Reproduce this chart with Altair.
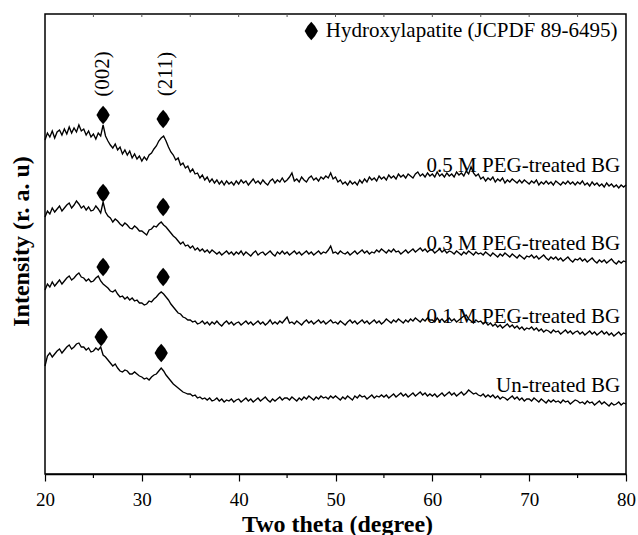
import altair as alt
import pandas as pd

# 2-theta sampling grid (degrees), 0.25 degree steps from 20 to 80
two_theta = [20 + 0.25 * i for i in range(241)]

# Intensities (arbitrary units, vertically offset traces)
peg05 = [334, 341, 337, 343, 336, 342, 344, 339, 345, 340, 347, 341, 346, 342, 349, 343, 345, 339, 343, 337,
         340, 335, 341, 338, 349, 338, 333, 329, 326, 330, 324, 327, 320, 324, 319, 323, 316, 320, 315, 318,
         313, 317, 314, 319, 321, 325, 328, 333, 336, 338, 333, 327, 322, 319, 314, 316, 309, 311, 306, 308,
         302, 305, 300, 301, 296, 299, 294, 297, 292, 295, 291, 294, 290, 293, 289, 293, 290, 292, 289, 293,
         290, 294, 291, 293, 289, 292, 295, 291, 293, 290, 294, 291, 289, 293, 295, 291, 294, 292, 296, 292,
         294, 297, 301, 293, 295, 292, 297, 294, 292, 296, 298, 294, 296, 293, 297, 295, 298, 296, 301, 295,
         297, 292, 294, 290, 292, 289, 293, 290, 292, 289, 294, 291, 295, 292, 297, 294, 296, 293, 298, 295,
         297, 294, 299, 296, 298, 295, 300, 297, 299, 296, 300, 298, 296, 300, 302, 298, 300, 297, 301, 298,
         300, 297, 302, 298, 300, 297, 301, 298, 300, 297, 302, 299, 301, 298, 303, 300, 307, 301, 298, 300,
         295, 297, 293, 296, 294, 297, 292, 295, 293, 296, 291, 294, 292, 295, 293, 291, 294, 291, 294, 292,
         290, 293, 291, 294, 289, 292, 290, 293, 290, 292, 289, 293, 291, 289, 292, 290, 293, 290, 292, 289,
         292, 290, 293, 289, 291, 288, 292, 289, 291, 288, 290, 287, 291, 288, 290, 287, 289, 286, 289, 287,
         289]
peg03 = [257, 263, 260, 266, 262, 265, 268, 263, 266, 269, 271, 266, 269, 273, 270, 266, 268, 264, 267, 263,
         264, 268, 265, 261, 272, 262, 258, 256, 252, 255, 253, 250, 248, 251, 249, 246, 245, 248, 246, 243,
         243, 241, 239, 244, 245, 248, 247, 250, 252, 249, 247, 244, 241, 238, 236, 233, 230, 232, 228, 229,
         226, 228, 224, 226, 223, 225, 222, 224, 221, 224, 222, 220, 222, 219, 221, 223, 220, 222, 219, 222,
         220, 223, 219, 222, 220, 218, 221, 223, 219, 221, 222, 219, 221, 223, 220, 218, 222, 220, 223, 220,
         222, 219, 221, 223, 220, 222, 219, 221, 223, 220, 222, 219, 221, 223, 220, 222, 221, 224, 228, 221,
         222, 220, 223, 221, 220, 222, 219, 221, 223, 220, 222, 224, 221, 223, 220, 222, 221, 224, 222, 225,
         223, 221, 224, 222, 225, 222, 223, 220, 222, 224, 221, 223, 225, 222, 224, 226, 223, 225, 222, 224,
         224, 221, 223, 225, 222, 224, 221, 223, 222, 220, 223, 221, 219, 222, 220, 223, 221, 219, 222, 220,
         221, 219, 222, 220, 218, 221, 219, 217, 220, 218, 221, 219, 217, 220, 218, 216, 219, 217, 215, 218,
         217, 219, 216, 218, 215, 217, 219, 216, 214, 217, 215, 217, 214, 216, 213, 215, 217, 214, 212, 215,
         214, 216, 213, 215, 212, 214, 216, 213, 211, 214, 212, 214, 211, 213, 215, 212, 210, 213, 211, 213,
         212]
peg01 = [184, 190, 187, 192, 188, 191, 194, 190, 193, 196, 198, 194, 196, 199, 201, 197, 196, 193, 195, 192,
         193, 196, 198, 193, 190, 188, 186, 183, 182, 184, 180, 177, 178, 175, 177, 174, 176, 173, 174, 171,
         171, 169, 170, 173, 172, 175, 177, 180, 182, 180, 177, 174, 170, 167, 164, 161, 160, 157, 156, 154,
         154, 152, 153, 150, 151, 153, 150, 152, 149, 152, 150, 153, 150, 148, 151, 153, 150, 152, 149, 151,
         152, 149, 151, 153, 150, 152, 149, 151, 153, 150, 152, 149, 151, 154, 150, 152, 150, 153, 151, 154,
         157, 151, 152, 150, 153, 151, 149, 152, 154, 151, 153, 150, 152, 154, 151, 153, 150, 152, 154, 151,
         152, 150, 153, 151, 149, 152, 154, 151, 153, 150, 152, 154, 151, 153, 150, 152, 154, 151, 153, 150,
         152, 155, 153, 151, 154, 152, 155, 153, 151, 154, 152, 155, 153, 156, 154, 152, 155, 153, 156, 154,
         154, 152, 156, 153, 155, 152, 154, 156, 153, 155, 152, 154, 156, 158, 159, 155, 153, 151, 154, 152,
         153, 150, 152, 149, 151, 148, 150, 147, 149, 146, 148, 150, 147, 149, 146, 148, 145, 147, 144, 146,
         145, 147, 144, 146, 143, 145, 142, 144, 143, 141, 144, 142, 143, 140, 142, 144, 141, 143, 140, 142,
         143, 140, 142, 139, 141, 143, 140, 142, 139, 141, 143, 140, 142, 139, 141, 138, 140, 142, 139, 141,
         140]
untreated = [108, 118, 121, 117, 120, 123, 125, 121, 124, 127, 129, 125, 127, 130, 131, 127, 127, 124, 126, 122,
             123, 126, 124, 127, 119, 117, 114, 111, 108, 110, 106, 103, 102, 104, 103, 100, 100, 102, 100, 98,
             97, 95, 96, 94, 97, 99, 100, 103, 106, 103, 99, 96, 93, 90, 88, 86, 84, 82, 81, 80,
             80, 78, 79, 76, 77, 75, 76, 74, 76, 73, 74, 76, 73, 75, 72, 74, 73, 75, 72, 74,
             75, 72, 74, 76, 73, 75, 72, 74, 76, 73, 75, 77, 74, 72, 75, 73, 75, 77, 74, 76,
             76, 74, 77, 75, 73, 76, 74, 77, 75, 78, 76, 74, 77, 75, 78, 76, 77, 75, 78, 76,
             78, 76, 74, 77, 75, 78, 76, 74, 78, 76, 79, 77, 78, 75, 77, 79, 76, 78, 77, 79,
             77, 79, 76, 78, 80, 77, 79, 81, 78, 80, 77, 79, 81, 78, 80, 82, 79, 81, 78, 80,
             78, 80, 77, 79, 81, 78, 80, 82, 79, 81, 78, 80, 82, 79, 81, 84, 82, 80, 81, 79,
             78, 80, 77, 79, 77, 79, 76, 78, 75, 77, 76, 74, 76, 78, 75, 77, 74, 76, 73, 75,
             75, 73, 76, 74, 72, 75, 73, 71, 74, 72, 74, 72, 73, 71, 74, 72, 73, 70, 72, 74,
             73, 71, 72, 70, 73, 71, 72, 69, 71, 73, 70, 72, 70, 68, 71, 69, 70, 72, 69, 71,
             70]

series_names = ["0.5 M PEG-treated BG", "0.3 M PEG-treated BG",
                "0.1 M PEG-treated BG", "Un-treated BG"]

# Series label anchors (right-aligned text)
label_theta = [79.4, 79.4, 79.4, 79.4]
label_intensity = [302, 224, 151, 82]

# Hydroxylapatite peak markers
peak_theta = [26.0, 32.2, 26.0, 32.2, 26.0, 32.2, 25.8, 32.0]
peak_intensity = [359, 355, 281, 267, 207, 197, 137, 121]

# Miller index labels
hkl_text = ["(002)", "(211)"]
hkl_theta = [25.95, 32.45]
hkl_intensity = [400, 400]

# Legend
legend_text = ["Hydroxylapatite (JCPDF 89-6495)"]
legend_marker_theta = [47.5]
legend_marker_intensity = [443]
legend_text_theta = [49.0]
legend_text_intensity = [437]

major_ticks = [20, 30, 40, 50, 60, 70, 80]
minor_ticks = [25, 35, 45, 55, 65, 75]
top_ticks = [25, 30, 35, 40, 45, 50, 55, 60, 65, 70, 75]

rows = []
for name, vals in zip(series_names, [peg05, peg03, peg01, untreated]):
    for t, v in zip(two_theta, vals):
        rows.append({"series": name, "theta": t, "intensity": v})
df = pd.DataFrame(rows)

FONT = "Liberation Serif"

x_scale = alt.Scale(domain=[20, 80], nice=False, zero=False)
y_scale = alt.Scale(domain=[0, 460], nice=False, zero=False)

x_axis = alt.Axis(values=major_ticks, tickSize=7, tickWidth=1.2, tickColor="black",
                  domainColor="black", domainWidth=1.5, grid=False,
                  labelFont=FONT, labelFontSize=19, labelColor="black",
                  labelPadding=9, labelFlush=False, labelOverlap=False,
                  titleFont=FONT, titleFontSize=24, titleFontWeight="bold",
                  titleColor="black", titleX=292, titleY=57,
                  titleBaseline="alphabetic", titleAlign="center")
y_axis = alt.Axis(labels=False, ticks=False, domain=False, grid=False,
                  titleFont=FONT, titleFontSize=24, titleFontWeight="bold",
                  titleColor="black", titleAngle=270, titleAlign="center",
                  titleBaseline="alphabetic", titleX=-17, titleY=227)


def X():
    return alt.X("theta:Q", scale=x_scale, axis=x_axis, title="Two theta (degree)")


def Y():
    return alt.Y("intensity:Q", scale=y_scale, axis=y_axis, title="Intensity (r. a. u)")


lines = alt.Chart(df).mark_line(color="black", strokeWidth=1.35).encode(
    x=X(), y=Y(), detail="series:N", order="theta:Q"
)

diamond = "M0,-1Q0.46,-0.56 0.72,0Q0.46,0.56 0,1Q-0.46,0.56 -0.72,0Q-0.46,-0.56 0,-1Z"

peaks_df = pd.DataFrame({"theta": peak_theta, "intensity": peak_intensity})
peaks = alt.Chart(peaks_df).mark_point(shape=diamond, size=340, filled=True,
                                       color="black", opacity=1).encode(x=X(), y=Y())

leg_m_df = pd.DataFrame({"theta": legend_marker_theta, "intensity": legend_marker_intensity})
leg_marker = alt.Chart(leg_m_df).mark_point(shape=diamond, size=340, filled=True,
                                            color="black", opacity=1).encode(x=X(), y=Y())

leg_t_df = pd.DataFrame({"theta": legend_text_theta, "intensity": legend_text_intensity,
                         "text": legend_text})
leg_text = alt.Chart(leg_t_df).mark_text(align="left", baseline="alphabetic", font=FONT,
                                         fontSize=21, color="black").encode(
    x=X(), y=Y(), text="text:N")

lab_df = pd.DataFrame({"theta": label_theta, "intensity": label_intensity,
                       "text": series_names})
labels = alt.Chart(lab_df).mark_text(align="right", baseline="alphabetic", font=FONT,
                                     fontSize=21, color="black").encode(
    x=X(), y=Y(), text="text:N")

hkl_df = pd.DataFrame({"theta": hkl_theta, "intensity": hkl_intensity, "text": hkl_text})
hkl = alt.Chart(hkl_df).mark_text(align="center", baseline="middle", angle=270, font=FONT,
                                  fontSize=21, color="black").encode(
    x=X(), y=Y(), text="text:N")

minor_df = pd.DataFrame({"theta": minor_ticks})
minor = alt.Chart(minor_df).mark_rule(color="black", strokeWidth=1.2).encode(
    x=X(), y=alt.value(460), y2=alt.value(464))

top_df = pd.DataFrame({"theta": top_ticks})
top = alt.Chart(top_df).mark_rule(color="#555555", strokeWidth=1).encode(
    x=X(), y=alt.value(0), y2=alt.value(3))

chart = alt.layer(lines, peaks, leg_marker, leg_text, labels, hkl, minor, top).properties(
    width=581, height=460,
    padding={"left": 45, "top": 14, "right": 12, "bottom": 61},
    autosize=alt.AutoSizeParams(type="none"),
    background="white",
).configure_view(stroke="black", strokeWidth=1.5)

chart.save("out.html", embed_options={"renderer": "svg", "actions": False})
